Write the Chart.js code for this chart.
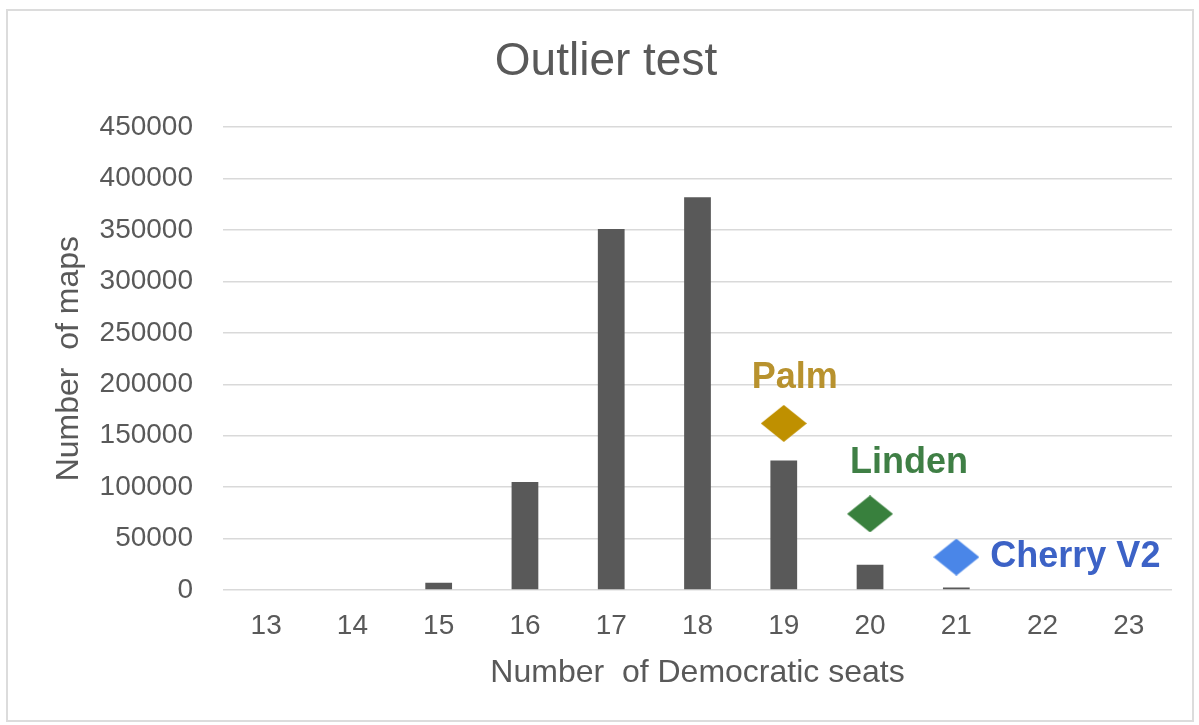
<!DOCTYPE html>
<html>
<head>
<meta charset="utf-8">
<title>Outlier test</title>
<script src="https://cdn.jsdelivr.net/npm/chart.js@4.4.1/dist/chart.umd.min.js"></script>
<style>
  body { margin: 0; background: #fff; }
  .frame { position: absolute; left: 6px; top: 9px; width: 1184px; height: 709px; border: 2px solid #dcdcdc; }
  #outlier-chart { position: absolute; left: 0; top: 0; }
</style>
</head>
<body>
<div class="frame"></div>
<canvas id="outlier-chart" width="1199" height="725"></canvas>
<script>
// seats on the x axis
var seats = ["13","14","15","16","17","18","19","20","21","22","23"];
// number of maps per seat count
var mapCounts = [0, 0, 7000, 105000, 351000, 382000, 126000, 24500, 2500, 0, 0];
// the named plans
var planNames = ["Palm", "Linden", "Cherry V2"];
var planSeats = ["19", "20", "21"];
var planValues = [162000, 74000, 32000];
var yTicks = [0, 50000, 100000, 150000, 200000, 250000, 300000, 350000, 400000, 450000];

var planColors = ["#bf9000", "#38803d", "#4a86e8"];
var planTextColors = ["#b8922e", "#3f7f45", "#3c62c6"];
// label placement relative to its diamond
var planLabelPos = [
  { align: "center", dx: 11, dy: -45 },
  { align: "center", dx: 39, dy: -51 },
  { align: "left", dx: 34, dy: 0 }
];

var grey = "#595959";
var font = "'Liberation Sans', Arial, sans-serif";

// diamond marker as an image (a bit wider than tall, like the original)
function diamond(color) {
  var c = document.createElement("canvas");
  c.width = 46; c.height = 37;
  var ctx = c.getContext("2d");
  ctx.fillStyle = color;
  ctx.beginPath();
  ctx.moveTo(23, 0);
  ctx.lineTo(46, 18.5);
  ctx.lineTo(23, 37);
  ctx.lineTo(0, 18.5);
  ctx.closePath();
  ctx.fill();
  return c;
}

var planLabels = {
  id: "planLabels",
  afterDatasetsDraw: function (chart) {
    var meta = chart.getDatasetMeta(1);
    var ctx = chart.ctx;
    ctx.save();
    ctx.font = "bold 36px " + font;
    ctx.textBaseline = "middle";
    meta.data.forEach(function (pt, i) {
      var p = planLabelPos[i];
      ctx.fillStyle = planTextColors[i];
      ctx.textAlign = p.align;
      ctx.fillText(planNames[i], pt.x + p.dx, pt.y + p.dy);
    });
    ctx.restore();
  }
};

new Chart(document.getElementById("outlier-chart"), {
  type: "bar",
  data: {
    labels: seats,
    datasets: [{
        label: "Number of maps",
        data: mapCounts,
        backgroundColor: grey,
        barPercentage: 0.31,
        categoryPercentage: 1,
        order: 1
      }, {
        type: "line",
        label: "Plans",
        data: planSeats.map(function (s, i) { return { x: s, y: planValues[i] }; }),
        showLine: false,
        pointStyle: planColors.map(diamond),
        pointRadius: 20,
        order: 0
      }
    ]
  },
  options: {
    responsive: false,
    animation: false,
    layout: { padding: { left: 40, right: 27, top: 0, bottom: 33 } },
    plugins: {
      legend: { display: false },
      tooltip: { enabled: false },
      title: {
        display: true,
        text: "Outlier test",
        color: grey,
        font: { family: font, size: 46, weight: "normal" },
        padding: { top: 35, bottom: 37 }
      }
    },
    scales: {
      x: {
        afterFit: function (axis) { axis.height = 102; },
        grid: { display: false },
        border: { display: false },
        ticks: { color: grey, font: { family: font, size: 28 }, padding: 11, maxRotation: 0 },
        title: {
          display: true,
          text: "Number  of Democratic seats",
          color: grey,
          font: { family: font, size: 32 },
          padding: { top: 0, bottom: 0 }
        }
      },
      y: {
        min: 0,
        max: 450000,
        afterBuildTicks: function (axis) {
          axis.ticks = yTicks.map(function (v) { return { value: v }; });
        },
        afterFit: function (axis) { axis.width = 183; },
        grid: { color: "#d9d9d9", lineWidth: 1.5, drawTicks: false },
        border: { display: false },
        ticks: {
          color: grey,
          font: { family: font, size: 28 },
          padding: 30,
          callback: function (v) { return String(v); }
        },
        title: {
          display: true,
          text: "Number  of maps",
          color: grey,
          font: { family: font, size: 32 },
          padding: { top: 10, bottom: 0 }
        }
      }
    }
  },
  plugins: [planLabels]
});
</script>
</body>
</html>
